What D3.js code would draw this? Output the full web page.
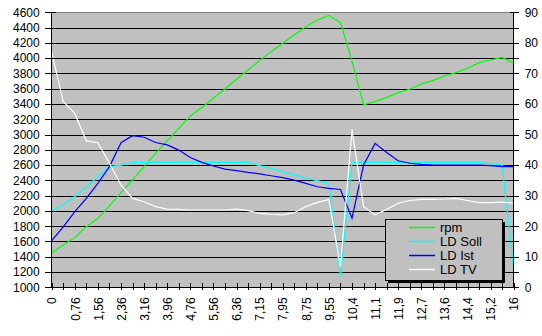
<!DOCTYPE html>
<html>
<head>
<meta charset="utf-8">
<script src="https://cdn.jsdelivr.net/npm/d3@7"></script>
<style>
  body { margin: 0; background: #fff; }
  text { font-family: "Liberation Sans", Arial, sans-serif; }
</style>
</head>
<body>
<div id="chart"></div>
<script>
// time axis (s), every second one is labelled
let times = [0, 0.38, 0.76, 1.16, 1.56, 1.96, 2.36, 2.76, 3.16, 3.56, 3.96, 4.36, 4.76, 5.16,
    5.56, 5.96, 6.36, 6.76, 7.15, 7.55, 7.95, 8.35, 8.75, 9.15, 9.55, 9.95, 10.4, 10.8,
    11.1, 11.5, 11.9, 12.3, 12.7, 13.1, 13.6, 14, 14.4, 14.8, 15.2, 15.6, 16];

let rpm = [1450, 1554, 1650, 1794, 1903, 2065, 2239, 2405, 2580, 2754, 2916, 3081, 3243, 3355,
    3474, 3596, 3723, 3845, 3967, 4085, 4194, 4303, 4412, 4500, 4560, 4464, 3960, 3390,
    3430, 3487, 3548, 3592, 3662, 3705, 3766, 3810, 3867, 3941, 3976, 4010, 3932];

let ldSoll = [25, 26.9, 29.7, 32.9, 36.2, 39.5, 40, 40.9, 40.9, 40.9, 40.9, 40.9, 40.9, 40.9,
    40.9, 40.9, 40.9, 40.9, 39.8, 38.9, 37.8, 36.8, 35.7, 34.9, 34, 3.6, 40.9, 40.9,
    40.9, 40.9, 40.9, 40.9, 40.9, 40.9, 40.9, 40.9, 40.9, 40.9, 40.4, 40, 6];

let ldIst = [15.3, 19.8, 24.8, 29.1, 34, 39.5, 47.3, 49.6, 49.1, 47.4, 46.6, 44.9, 42.5, 40.9,
    39.7, 38.7, 38.2, 37.6, 37.1, 36.5, 35.9, 35.1, 34, 32.9, 32.4, 32, 22.6, 40,
    47.1, 44.1, 41.4, 40.6, 40.2, 40, 40, 40, 40, 40, 39.8, 39.5, 39.5];

let ldTv = [77, 60.8, 56.9, 47.9, 47.3, 40.6, 33.5, 29.1, 28, 26.4, 25.6, 25.5, 25.3, 25.3,
    25.3, 25.3, 25.6, 25.1, 24.2, 23.9, 23.7, 24.4, 26.4, 27.8, 28.7, 6.7, 51.7, 26.4,
    23.7, 25.5, 27.5, 28.4, 28.8, 28.8, 28.9, 29.1, 28.4, 27.7, 27.7, 27.9, 27.5];

let seriesNames = ["rpm", "LD Soll", "LD Ist", "LD TV"];
let seriesColors = ["#00ff00", "#00ffff", "#0000ff", "#ffffff"];

let leftTicks = d3.range(1000, 4601, 200);
let rightTicks = d3.range(0, 91, 5);

let width = 542, height = 336;
let plot = {left: 51.7, right: 513.7, top: 12.3, bottom: 287.3};

let svg = d3.select("#chart")
    .append("svg")
    .attr("width", width)
    .attr("height", height);

let x = d3.scalePoint()
    .domain(d3.range(times.length))
    .range([plot.left, plot.right]);

let yL = d3.scaleLinear()
    .domain([1000, 4600])
    .range([plot.bottom, plot.top]);

let yR = d3.scaleLinear()
    .domain([0, 90])
    .range([plot.bottom, plot.top]);

// plot area
svg.append("rect")
    .attr("x", plot.left)
    .attr("y", plot.top)
    .attr("width", plot.right - plot.left)
    .attr("height", plot.bottom - plot.top)
    .attr("fill", "#c0c0c0");

// gridlines
svg.append("g")
    .selectAll("line")
    .data(leftTicks.filter(d => d > 1000 && d < 4600))
    .enter()
    .append("line")
    .attr("x1", plot.left)
    .attr("x2", plot.right)
    .attr("y1", d => Math.round(yL(d)) + 0.5)
    .attr("y2", d => Math.round(yL(d)) + 0.5)
    .attr("stroke", "#000")
    .attr("shape-rendering", "crispEdges");

// top border
svg.append("line")
    .attr("x1", plot.left).attr("x2", plot.right)
    .attr("y1", plot.top).attr("y2", plot.top)
    .attr("stroke", "#808080")
    .attr("shape-rendering", "crispEdges");

// lines
let allSeries = [rpm, ldSoll, ldIst, ldTv];
allSeries.forEach(function (values, k) {
    let yScale = k == 0 ? yL : yR;
    let line = d3.line()
        .x((d, i) => x(i))
        .y(d => yScale(d));
    svg.append("path")
        .datum(values)
        .attr("d", line)
        .attr("fill", "none")
        .attr("stroke", seriesColors[k])
        .attr("stroke-width", 1.2);
});

// left axis
let axL = svg.append("g")
    .attr("transform", "translate(" + plot.left + ",0)")
    .call(d3.axisLeft(yL).tickValues(leftTicks).tickSize(7).tickPadding(5).tickFormat(d3.format("d")));
axL.selectAll(".tick line").attr("x2", -7).attr("x1", 4);

// right axis
let axR = svg.append("g")
    .attr("transform", "translate(" + plot.right + ",0)")
    .call(d3.axisRight(yR).tickValues(rightTicks).tickSize(5).tickPadding(6)
        .tickFormat(d => d % 10 == 0 ? d : ""));
axR.selectAll(".tick line").attr("x1", -4);

// bottom axis
let axB = svg.append("g")
    .attr("transform", "translate(0," + plot.bottom + ")")
    .call(d3.axisBottom(x).tickSize(3)
        .tickFormat(i => i % 2 == 0 ? String(times[i]).replace(".", ",") : ""));
axB.selectAll(".tick line").attr("y1", -4);
axB.selectAll(".tick text")
    .attr("transform", "rotate(-90)")
    .attr("text-anchor", "end")
    .attr("x", -10)
    .attr("y", 0)
    .attr("dy", "0.35em");

[axL, axR, axB].forEach(function (ax) {
    ax.select(".domain").remove();
    ax.selectAll("line").attr("stroke", "#000").attr("shape-rendering", "crispEdges");
    ax.selectAll("text").attr("fill", "#000").style("font-size", "12px");
});

// axis lines
[[plot.left, plot.top, plot.left, plot.bottom],
 [plot.right, plot.top, plot.right, plot.bottom],
 [plot.left, plot.bottom, plot.right, plot.bottom]].forEach(function (c) {
    svg.append("line")
        .attr("x1", c[0]).attr("y1", c[1])
        .attr("x2", c[2]).attr("y2", c[3])
        .attr("stroke", "#000")
        .attr("shape-rendering", "crispEdges");
});

// legend
let lg = {x: 385, y: 219, w: 117, h: 61};
svg.append("rect")
    .attr("x", lg.x + 3).attr("y", lg.y + 3)
    .attr("width", lg.w).attr("height", lg.h)
    .attr("fill", "#000");
svg.append("rect")
    .attr("x", lg.x + 0.5).attr("y", lg.y + 0.5)
    .attr("width", lg.w).attr("height", lg.h)
    .attr("fill", "#c0c0c0")
    .attr("stroke", "#000");

let items = svg.append("g")
    .selectAll("g")
    .data(seriesNames)
    .enter()
    .append("g")
    .attr("transform", (d, i) => "translate(" + lg.x + "," + (lg.y + 13 + i * 14) + ")");
items.append("line")
    .attr("x1", 24).attr("x2", 50)
    .attr("y1", -4.5).attr("y2", -4.5)
    .attr("stroke", (d, i) => seriesColors[i])
    .attr("stroke-width", 1.5);
items.append("text")
    .attr("x", 55)
    .attr("y", 0)
    .style("font-size", "13px")
    .text(d => d);
</script>
</body>
</html>
